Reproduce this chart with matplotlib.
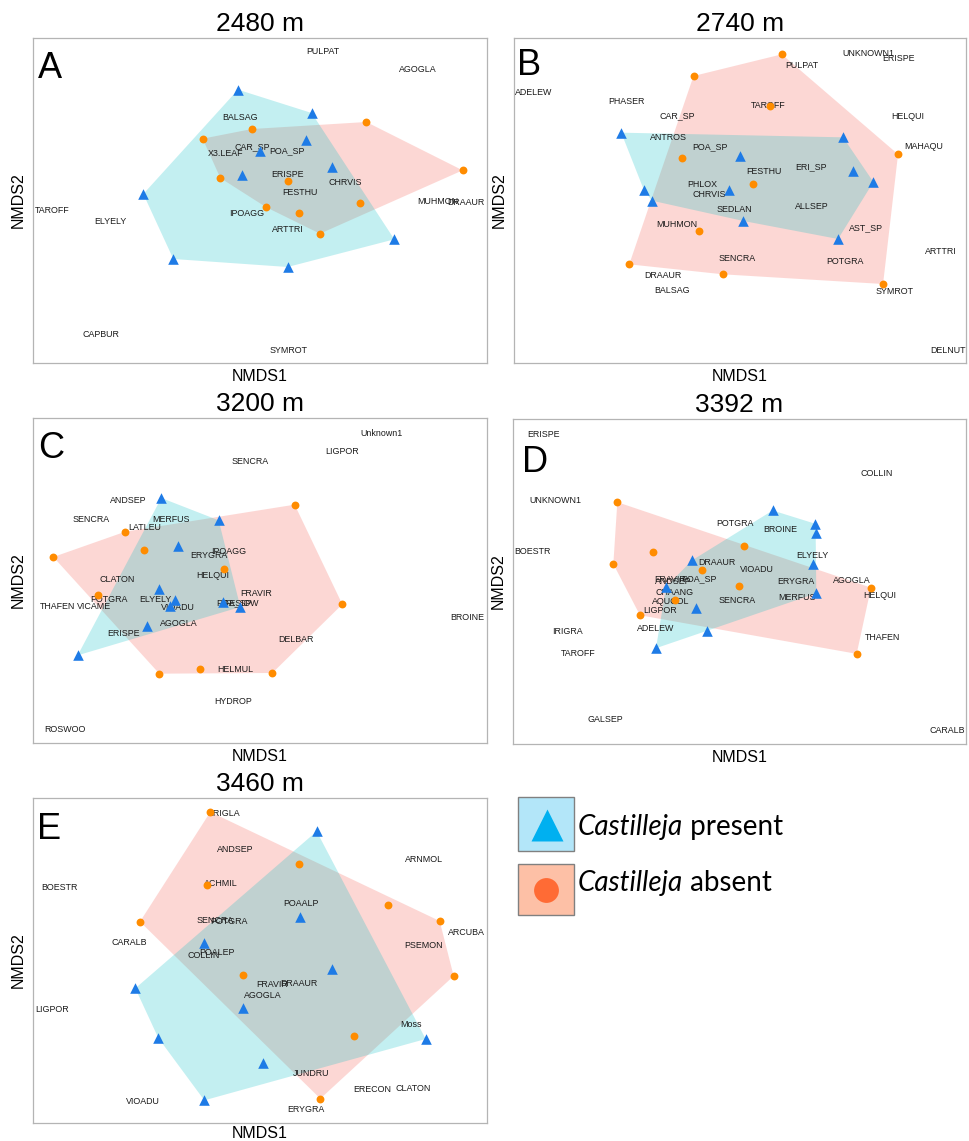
import numpy as np
import matplotlib.pyplot as plt
from matplotlib.patches import Polygon, Rectangle

plt.rcParams['font.family'] = 'Liberation Sans'

W, H = 969, 1141

# ordination scores per elevation (NMDS1, NMDS2), sites with / without Castilleja
A_PRESENT = [(615, 155), (836, 225), (819, 305), (681, 340), (628, 411),
             (897, 386), (331, 468), (421, 663), (764, 687), (1084, 604)]
A_ABSENT = [(657, 273), (509, 302), (1000, 252), (1289, 397), (562, 420),
            (766, 430), (700, 508), (797, 526), (981, 496), (861, 587)]
A_SPECIES = [("PULPAT", 870, 40), ("AGOGLA", 1153, 95), ("BALSAG", 622, 238),
             ("CAR_SP", 659, 325), ("POA_SP", 762, 337), ("X3.LEAF", 577, 346),
             ("ERISPE", 765, 410), ("CHRVIS", 938, 433), ("FESTHU", 800, 464),
             ("MUHMON", 1215, 489), ("DRAAUR", 1300, 493), ("TAROFF", 56, 517),
             ("ELYELY", 232, 551), ("IPOAGG", 641, 527), ("ARTTRI", 765, 575),
             ("CAPBUR", 204, 890), ("SYMROT", 767, 937)]

B_PRESENT = [(327, 284), (993, 298), (682, 354), (1022, 399), (1084, 432),
             (395, 456), (651, 457), (419, 488), (694, 549), (978, 603)]
B_ABSENT = [(809, 49), (544, 114), (773, 204), (510, 360), (1158, 349),
            (723, 439), (560, 579), (351, 679), (633, 709), (1113, 738)]
B_SPECIES = [("UNKNOWN1", 1070, 47), ("ERISPE", 1160, 62), ("PULPAT", 868, 82),
             ("ADELEW", 64, 164), ("PHASER", 342, 190), ("TAROFF", 769, 204),
             ("CAR_SP", 495, 234), ("HELQUI", 1187, 236), ("ANTROS", 470, 297),
             ("POA_SP", 593, 325), ("MAHAQU", 1234, 325), ("ERI_SP", 898, 387),
             ("FESTHU", 755, 401), ("PHLOX", 569, 440), ("CHRVIS", 591, 469),
             ("SEDLAN", 667, 515), ("ALLSEP", 900, 506), ("MUHMON", 494, 560),
             ("AST_SP", 1061, 569), ("ARTTRI", 1287, 641), ("SENCRA", 676, 662),
             ("POTGRA", 998, 671), ("DRAAUR", 452, 713), ("BALSAG", 479, 758),
             ("SYMROT", 1148, 762), ("DELNUT", 1308, 937)]

C_PRESENT = [(385, 270), (557, 337), (435, 414), (378, 543), (426, 575),
             (412, 593), (570, 582), (622, 597), (342, 655), (134, 742)]
C_ABSENT = [(785, 290), (277, 371), (61, 447), (334, 427), (573, 482),
            (196, 561), (928, 589), (379, 797), (501, 782), (718, 795)]
C_SPECIES = [("Unknown1", 1046, 77), ("LIGPOR", 927, 132), ("SENCRA", 651, 160),
             ("ANDSEP", 287, 278), ("SENCRA", 175, 333), ("MERFUS", 414, 333),
             ("LATLEU", 335, 358), ("IPOAGG", 587, 429), ("ERYGRA", 528, 441),
             ("HELQUI", 538, 503), ("CLATON", 254, 516), ("FRAVIR", 669, 557),
             ("POTGRA", 227, 574), ("ELYELY", 366, 575), ("THAFEN", 74, 596),
             ("VICAME", 182, 596), ("VIOADU", 434, 600), ("POA_SP", 603, 584),
             ("FESIDW", 625, 586), ("BROINE", 1303, 628), ("AGOGLA", 438, 648),
             ("ERISPE", 273, 677), ("DELBAR", 788, 694), ("HELMUL", 606, 786),
             ("HYDROP", 599, 882), ("ROSWOO", 97, 965)]

D_PRESENT = [(782, 283), (910, 323), (911, 351), (904, 443), (540, 433),
             (462, 513), (913, 532), (553, 577), (584, 645), (432, 697)]
D_ABSENT = [(316, 258), (424, 408), (304, 444), (695, 391), (569, 463),
            (680, 510), (1077, 515), (488, 553), (384, 598), (1034, 714)]
D_SPECIES = [("ERISPE", 93, 56), ("COLLIN", 1094, 172), ("UNKNOWN1", 130, 252),
             ("POTGRA", 670, 321), ("BROINE", 805, 339), ("BOESTR", 61, 407),
             ("ELYELY", 900, 417), ("DRAAUR", 616, 440), ("VIOADU", 735, 459),
             ("FRAVIR", 473, 489), ("ANDSEP", 483, 497), ("POA_SP", 560, 489),
             ("ERYGRA", 852, 495), ("AGOGLA", 1020, 493), ("CHAANG", 488, 530),
             ("HELQUI", 1102, 540), ("MERFUS", 855, 546), ("SENCRA", 674, 554),
             ("AQUCOL", 477, 557), ("LIGPOR", 443, 584), ("ADELEW", 431, 639),
             ("IRIGRA", 165, 648), ("THAFEN", 1113, 664), ("TAROFF", 197, 712),
             ("GALSEP", 281, 911), ("CARALB", 1305, 944)]

E_PRESENT = [(851, 108), (800, 366), (514, 442), (897, 522), (307, 579),
             (631, 639), (376, 728), (1178, 731), (691, 802), (514, 915)]
E_ABSENT = [(532, 50), (799, 205), (523, 269), (1066, 329), (1220, 377),
            (321, 379), (630, 540), (1262, 542), (963, 723), (862, 910)]
E_SPECIES = [("ERIGLA", 572, 56), ("ANDSEP", 606, 163), ("ARNMOL", 1174, 192),
             ("BOESTR", 79, 278), ("ACHMIL", 563, 263), ("POAALP", 803, 325),
             ("SENCRA", 545, 376), ("POTGRA", 588, 377), ("CARALB", 289, 441),
             ("ARCUBA", 1300, 412), ("PSEMON", 1173, 449), ("COLLIN", 512, 479),
             ("POALEP", 553, 472), ("FRAVIR", 716, 568), ("DRAAUR", 798, 565),
             ("AGOGLA", 689, 601), ("LIGPOR", 56, 643), ("Moss", 1134, 688),
             ("JUNDRU", 833, 835), ("ERECON", 1019, 884), ("CLATON", 1140, 879),
             ("VIOADU", 330, 917), ("ERYGRA", 820, 941)]

ELEVATIONS = ["2480 m", "2740 m", "3200 m", "3392 m", "3460 m"]
LETTERS = ["A", "B", "C", "D", "E"]

# panel frame in pixels (left, top, right, bottom), score limits, letter offset, xlabel pad
panels = [
    ((33, 38, 487, 363), (0, 1362, 975, 0), (5, 13), 4, A_PRESENT, A_ABSENT, A_SPECIES),
    ((514, 38, 966, 363), (5, 1362, 975, 0), (3, 10), 4, B_PRESENT, B_ABSENT, B_SPECIES),
    ((33, 418, 487, 743), (0, 1362, 1005, 30), (5, 13), 4, C_PRESENT, C_ABSENT, C_SPECIES),
    ((513, 419, 966, 744), (3, 1362, 985, 8), (9, 26), 4, D_PRESENT, D_ABSENT, D_SPECIES),
    ((33, 798, 487, 1123), (0, 1362, 983, 8), (4, 14), 2, E_PRESENT, E_ABSENT, E_SPECIES),
]

PRESENT_FILL = '#00BFC4'
ABSENT_FILL = '#F8766D'
PRESENT_PT = '#1E7BE6'
ABSENT_PT = '#FF8C00'


def hull(points):
    pts = sorted(set(points))
    def cross(o, a, b):
        return (a[0] - o[0]) * (b[1] - o[1]) - (a[1] - o[1]) * (b[0] - o[0])
    lower, upper = [], []
    for p in pts:
        while len(lower) >= 2 and cross(lower[-2], lower[-1], p) <= 0:
            lower.pop()
        lower.append(p)
    for p in reversed(pts):
        while len(upper) >= 2 and cross(upper[-2], upper[-1], p) <= 0:
            upper.pop()
        upper.append(p)
    return np.array(lower[:-1] + upper[:-1])


def px_axes(fig, box):
    l, t, r, b = box
    return fig.add_axes([l / W, 1 - b / H, (r - l) / W, (b - t) / H])


fig = plt.figure(figsize=(W / 100, H / 100), dpi=100)

for i, (box, lims, off, xpad, present, absent, species) in enumerate(panels):
    ax = px_axes(fig, box)
    ax.set_xlim(lims[0], lims[1])
    ax.set_ylim(lims[2], lims[3])
    ax.set_xticks([])
    ax.set_yticks([])
    for s in ax.spines.values():
        s.set_color('#b4b4b4')
        s.set_linewidth(0.9)

    ax.add_patch(Polygon(hull(absent), closed=True, facecolor=ABSENT_FILL,
                         alpha=0.29, edgecolor='none', zorder=1))
    ax.add_patch(Polygon(hull(present), closed=True, facecolor=PRESENT_FILL,
                         alpha=0.235, edgecolor='none', zorder=2))

    for name, x, y in species:
        ax.text(x, y, name, fontsize=6.4, color='#1a1a1a',
                ha='center', va='center', zorder=3)

    pa = np.array(present)
    ab = np.array(absent)
    ax.scatter(pa[:, 0], pa[:, 1], marker='^', s=58, color=PRESENT_PT,
               linewidths=0, zorder=4)
    ax.scatter(ab[:, 0], ab[:, 1], marker='o', s=32, color=ABSENT_PT,
               linewidths=0, zorder=4)

    l, t, r, b = box
    ax.text(off[0] / (r - l), 1 - off[1] / (b - t), LETTERS[i],
            transform=ax.transAxes, fontsize=26, ha='left', va='top')

    ax.set_title(ELEVATIONS[i], fontsize=19, pad=5)
    ax.set_xlabel("NMDS1", fontsize=11.5, labelpad=xpad)
    ax.set_ylabel("NMDS2", fontsize=11.5, labelpad=5)

# legend
lg = px_axes(fig, (505, 785, 830, 925))
lg.set_xlim(505, 830)
lg.set_ylim(925, 785)
lg.axis('off')
lg.add_patch(Rectangle((518, 797), 56, 54, facecolor='#B3E6F9',
                       edgecolor='#808080', linewidth=1))
lg.add_patch(Rectangle((518, 864), 56, 51, facecolor='#FDC0A6',
                       edgecolor='#808080', linewidth=1))
lg.scatter([546.5], [824.5], marker='^', s=530, color='#00B0F0', linewidths=0)
lg.scatter([546], [889.5], marker='o', s=320, color='#FF6B35', linewidths=0)

for label, y in [(" present", 835), (" absent", 891)]:
    t1 = lg.text(578, y, "Castilleja", fontsize=20, family='Lato',
                 style='italic', va='baseline', ha='left')
    lg.annotate(label, xy=(1, 0), xycoords=t1, fontsize=20, family='Lato',
                va='bottom', ha='left')

fig.savefig('out.png', dpi=100)
